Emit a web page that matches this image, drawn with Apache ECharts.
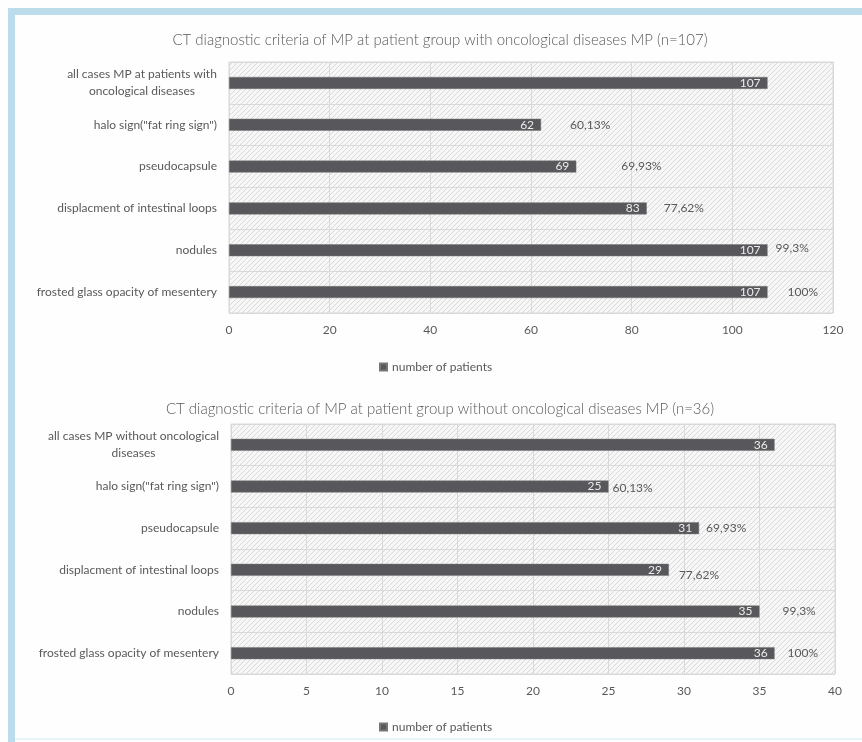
<!DOCTYPE html>
<html>
<head>
<meta charset="utf-8">
<script src="https://cdn.jsdelivr.net/npm/echarts@6/dist/echarts.min.js"></script>
<style>
html,body{margin:0;padding:0;background:#fff;}
#c{width:862px;height:742px;}
</style>
</head>
<body>
<div id="c"></div>
<script>
// ---- data ----
var title1 = 'CT diagnostic criteria of MP at patient group with oncological diseases MP (n=107)';
var title2 = 'CT diagnostic criteria of MP at patient group without oncological diseases MP (n=36)';
var categories1 = ['all cases MP at patients with\noncological diseases', 'halo sign("fat ring sign")', 'pseudocapsule', 'displacment of intestinal loops', 'nodules', 'frosted glass opacity of mesentery'];
var categories2 = ['all cases MP without oncological\ndiseases', 'halo sign("fat ring sign")', 'pseudocapsule', 'displacment of intestinal loops', 'nodules', 'frosted glass opacity of mesentery'];
var values1 = [107, 62, 69, 83, 107, 107];
var values2 = [36, 25, 31, 29, 35, 36];
var pct1 = ['', '60,13%', '69,93%', '77,62%', '99,3%', '100%'];
var pct2 = ['', '60,13%', '69,93%', '77,62%', '99,3%', '100%'];
var seriesName = 'number of patients';
var xTicks1 = {min: 0, max: 120, interval: 20};
var xTicks2 = {min: 0, max: 40, interval: 5};

// ---- label placement (style only) ----
var pctOffset1 = [[0,0],[29,0],[45,0],[17,0],[8,-2],[20,0]];
var pctOffset2 = [[0,0],[4,2],[7,0],[10,5],[23,0],[13,0]];

var FONT = 'Lato';
var TXT = '#595959';
var BAR = '#58585c';

// hatch pattern
function makeHatch() {
  var s = 5;
  var cv = document.createElement('canvas');
  cv.width = s; cv.height = s;
  var ctx = cv.getContext('2d');
  ctx.fillStyle = '#f7f7f7';
  ctx.fillRect(0, 0, s, s);
  ctx.strokeStyle = '#d9d9d9';
  ctx.lineWidth = 1;
  ctx.beginPath();
  ctx.moveTo(-1, s + 1); ctx.lineTo(s + 1, -1);
  ctx.moveTo(-1, 1); ctx.lineTo(1, -1);
  ctx.moveTo(s - 1, s + 1); ctx.lineTo(s + 1, s - 1);
  ctx.stroke();
  return cv;
}
var hatch = makeHatch();

var measCtx = document.createElement('canvas').getContext('2d');
measCtx.font = '12px ' + FONT;
function catFormatter(v) {
  if (v.indexOf('\n') < 0) return v;
  var lines = v.split('\n');
  var w = 0;
  lines.forEach(function (l) { w = Math.max(w, measCtx.measureText(l).width); });
  return lines.map(function (l) { return '{c' + Math.ceil(w) + '|' + l + '}'; }).join('\n');
}
function catRich(cats) {
  var r = {};
  cats.forEach(function (v) {
    if (v.indexOf('\n') < 0) return;
    var w = 0;
    v.split('\n').forEach(function (l) { w = Math.max(w, measCtx.measureText(l).width); });
    r['c' + Math.ceil(w)] = {width: Math.ceil(w), align: 'center', fontFamily: FONT, fontSize: 12, color: TXT, lineHeight: 17};
  });
  return r;
}

function grid(left, right, top, height) {
  return {left: left, right: right, top: top, height: height, show: true,
    backgroundColor: {image: hatch, repeat: 'repeat'},
    borderColor: '#d9d9d9', borderWidth: 1, containLabel: false};
}
function xAxis(idx, ticks) {
  return {type: 'value', gridIndex: idx, min: ticks.min, max: ticks.max, interval: ticks.interval,
    axisLine: {show: false}, axisTick: {show: false},
    axisLabel: {color: TXT, fontFamily: FONT, fontSize: 12, margin: 11},
    splitLine: {show: true, lineStyle: {color: '#d9d9d9', width: 1}}};
}
function yAxis(idx, cats) {
  return {type: 'category', gridIndex: idx, data: cats, inverse: true,
    axisLine: {show: false}, axisTick: {show: false},
    axisLabel: {color: TXT, fontFamily: FONT, fontSize: 12, margin: 12, formatter: catFormatter, rich: catRich(cats)},
    splitLine: {show: true, lineStyle: {color: '#d9d9d9', width: 1}}};
}
function barSeries(idx, vals) {
  return {name: seriesName, type: 'bar', xAxisIndex: idx, yAxisIndex: idx, data: vals, barWidth: 12,
    itemStyle: {color: BAR, borderColor: '#777', borderWidth: 0.5},
    label: {show: true, position: 'insideRight', distance: 7, color: '#ececec', fontFamily: FONT, fontSize: 12},
    z: 3};
}
function pctSeries(idx, vals, pcts, offs) {
  return {name: 'pct' + idx, type: 'bar', xAxisIndex: idx, yAxisIndex: idx, barWidth: 12, barGap: '-100%', silent: true,
    itemStyle: {color: 'rgba(0,0,0,0)'},
    data: vals.map(function (v, i) {
      return {value: v, label: {show: pcts[i] !== '', offset: offs[i], formatter: pcts[i]}};
    }),
    label: {position: 'right', distance: 0, color: TXT, fontFamily: FONT, fontSize: 12},
    z: 4};
}

var chart = echarts.init(document.getElementById('c'));
chart.setOption({
  backgroundColor: '#fefefe',
  animation: false,
  graphic: [
    {type: 'rect', shape: {x: 8, y: 8, width: 854, height: 7}, style: {fill: '#bcdcec'}, silent: true},
    {type: 'rect', shape: {x: 8, y: 8, width: 7, height: 734}, style: {fill: '#bcdcec'}, silent: true},
    {type: 'rect', shape: {x: 15, y: 738, width: 847, height: 2}, style: {fill: '#e6f5f7'}, silent: true}
  ],
  title: [
    {text: title1, left: 435, top: 28, textAlign: 'center', textStyle: {color: TXT, fontFamily: FONT, fontSize: 15, fontWeight: 300}},
    {text: title2, left: 435, top: 397, textAlign: 'center', textStyle: {color: TXT, fontFamily: FONT, fontSize: 15, fontWeight: 300}}
  ],
  legend: [
    {data: [seriesName], left: 374, top: 356, icon: 'rect', itemWidth: 7, itemHeight: 7, itemGap: 4,
      textStyle: {color: TXT, fontFamily: FONT, fontSize: 12}},
    {data: [seriesName], left: 374, top: 716, icon: 'rect', itemWidth: 7, itemHeight: 7, itemGap: 4,
      textStyle: {color: TXT, fontFamily: FONT, fontSize: 12}}
  ],
  grid: [grid(229, 29, 62, 251), grid(231, 27, 424, 250)],
  xAxis: [xAxis(0, xTicks1), xAxis(1, xTicks2)],
  yAxis: [yAxis(0, categories1), yAxis(1, categories2)],
  series: [
    barSeries(0, values1), pctSeries(0, values1, pct1, pctOffset1),
    barSeries(1, values2), pctSeries(1, values2, pct2, pctOffset2)
  ]
});
</script>
</body>
</html>
